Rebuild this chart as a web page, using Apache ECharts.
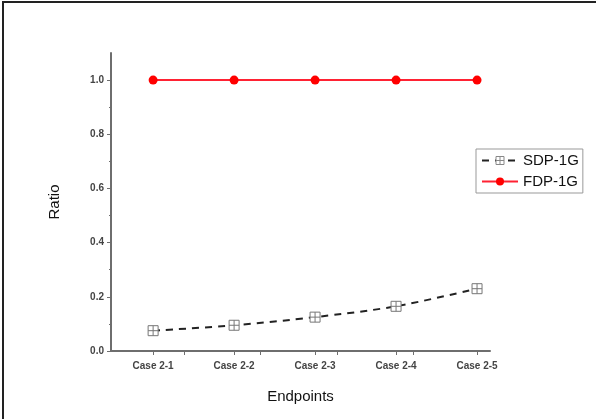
<!DOCTYPE html>
<html>
<head>
<meta charset="utf-8">
<script src="https://cdn.jsdelivr.net/npm/echarts@6/dist/echarts.min.js"></script>
<style>
  html, body { margin: 0; padding: 0; background: #fff; }
  #frame { position: absolute; left: 2px; top: 1px; width: 594px; height: 418px;
           border-left: 2px solid #222; border-top: 2px solid #222; box-sizing: border-box; }
  #chart { position: absolute; left: 0; top: 0; width: 596px; height: 419px; }
</style>
</head>
<body>
<div id="frame"></div>
<div id="chart"></div>
<script>
// data
const categories = ['Case 2-1', 'Case 2-2', 'Case 2-3', 'Case 2-4', 'Case 2-5'];
const sdp = [0.075, 0.095, 0.125, 0.165, 0.23];
const fdp = [1.0, 1.0, 1.0, 1.0, 1.0];
const yTicks = [0, 0.2, 0.4, 0.6, 0.8, 1.0];
// Origin put its minor x ticks a bit off the midpoints
const xMinor = [1.38, 2.32, 3.27, 4.21];

const axisGray = '#6e6e6e';
const font = 'Liberation Sans, Arial, sans-serif';
// square with a cross inside
const crossBox = 'path://M0,0 L10,0 L10,10 L0,10 Z M5,0 L5,10 M0,5 L10,5';

const xPos = categories.map((c, i) => i + 1);

const chart = echarts.init(document.getElementById('chart'), null, {renderer: 'canvas'});
chart.setOption({
  animation: false,
  grid: {left: 111, top: 53, right: 106, bottom: 68},
  legend: {
    orient: 'vertical',
    left: 476, top: 149,
    itemWidth: 36, itemHeight: 10, itemGap: 6,
    padding: [4, 4, 4, 5],
    borderColor: '#999', borderWidth: 1,
    textStyle: {fontFamily: font, fontSize: 15, color: '#111'},
    data: [
      {name: 'SDP-1G', itemStyle: {color: '#fff', borderColor: '#888', borderWidth: 1}},
      {name: 'FDP-1G'}
    ]
  },
  xAxis: {
    type: 'value',
    min: 0.48, max: 5.16,
    name: 'Endpoints',
    nameLocation: 'middle',
    nameGap: 38,
    nameTextStyle: {fontFamily: font, fontSize: 15, color: '#111'},
    axisLine: {lineStyle: {color: axisGray, width: 2}},
    axisTick: {show: true, customValues: xPos.concat(xMinor), length: 4, lineStyle: {color: axisGray}},
    axisLabel: {
      customValues: xPos,
      formatter: v => categories[Math.round(v) - 1] || '',
      fontFamily: font, fontSize: 10, fontWeight: 'bold', color: '#444', margin: 10
    },
    splitLine: {show: false}
  },
  yAxis: {
    type: 'value',
    min: 0, max: 1.1,
    name: 'Ratio',
    nameLocation: 'middle',
    nameGap: 49,
    nameRotate: 90,
    nameTextStyle: {fontFamily: font, fontSize: 15, color: '#111'},
    axisLine: {show: true, lineStyle: {color: axisGray, width: 2}},
    axisTick: {show: true, customValues: yTicks, length: 4, lineStyle: {color: axisGray}},
    minorTick: {show: true, splitNumber: 2, length: 2, lineStyle: {color: axisGray}},
    axisLabel: {
      customValues: yTicks,
      formatter: v => v.toFixed(1),
      fontFamily: font, fontSize: 10, fontWeight: 'bold', color: '#444', margin: 7
    },
    splitLine: {show: false}
  },
  series: [
    {
      name: 'SDP-1G',
      type: 'line',
      smooth: 0.3,
      data: xPos.map((x, i) => [x, sdp[i]]),
      symbol: crossBox,
      symbolSize: 10,
      itemStyle: {color: '#fff', borderColor: '#777', borderWidth: 1},
      lineStyle: {color: '#222', width: 2, type: [7, 6]},
      z: 2
    },
    {
      name: 'FDP-1G',
      type: 'line',
      data: xPos.map((x, i) => [x, fdp[i]]),
      symbol: 'circle',
      symbolSize: 9,
      itemStyle: {color: '#f00'},
      lineStyle: {color: '#f23', width: 2},
      z: 3
    }
  ]
});
</script>
</body>
</html>
